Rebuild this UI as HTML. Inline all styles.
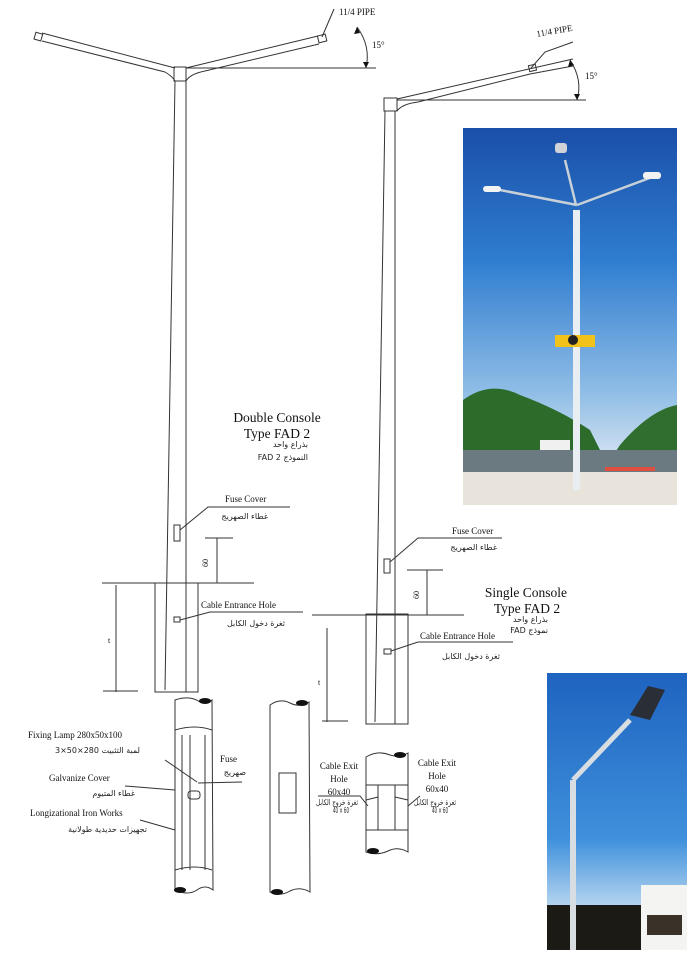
<!DOCTYPE html>
<html><head><meta charset="utf-8"><style>
html,body{margin:0;padding:0;background:#fff;}
svg{display:block;}
text{font-family:"Liberation Serif",serif;fill:#111;}
.ar{font-family:"DejaVu Sans",sans-serif;font-size:8px;fill:#222;}
</style></head><body>
<svg width="690" height="953" viewBox="0 0 690 953" xmlns="http://www.w3.org/2000/svg">
<defs>
<linearGradient id="sky1" x1="0" y1="0" x2="0" y2="1">
<stop offset="0" stop-color="#1a4fa8"/><stop offset="0.35" stop-color="#2f7dd0"/><stop offset="0.7" stop-color="#8fbde6"/><stop offset="0.85" stop-color="#c8dcef"/></linearGradient>
<linearGradient id="sky2" x1="0" y1="0" x2="0" y2="1">
<stop offset="0" stop-color="#1e63c0"/><stop offset="0.6" stop-color="#3f90dc"/><stop offset="0.85" stop-color="#b9d7f0"/></linearGradient>
</defs>
<g fill="none" stroke="#333" stroke-width="1">
<rect x="35" y="33" width="7" height="7" transform="rotate(16 38 36)"/>
<path d="M42 33 L175 68 M42 41 L165 72 Q172 76 175 81"/>
<rect x="174" y="67" width="12" height="14"/>
<path d="M186 68 L318 36 M186 81 Q190 74 205 71 L319 44"/>
<rect x="318" y="35" width="8" height="7" transform="rotate(-14 322 38)"/>
<path d="M186 68 L376 68"/>
<path d="M334 9 L322 37"/>
<path d="M357 27 Q371 46 366 68" />
<path d="M175 81 L165 690 M186 81 L186 692"/>
<rect x="155" y="583" width="43" height="109"/>
<path d="M102 583 L254 583"/>
<path d="M217 538 L217 583 M205 538 L233 538"/>
<path d="M116 585 L116 692 M103 691 L138 691"/>
<rect x="174" y="525" width="6" height="16"/>
<path d="M180 530 L208 507 L290 507"/>
<rect x="174" y="617" width="6" height="5"/>
<path d="M180 620 L210 612 L303 612"/>
<rect x="384" y="98" width="13" height="13"/>
<path d="M397 99 L573 59 M397 111 Q402 104 418 102 L530 74 M530 74 L573 66"/>
<rect x="529" y="65" width="7" height="6" transform="rotate(-13 532 68)"/>
<path d="M397 100 L586 100"/>
<path d="M531 68 L545 52 L573 42"/>
<path d="M570 60 Q583 80 577 100"/>
<path d="M385 111 L375 722 M395 111 L395 724"/>
<rect x="366" y="614" width="42" height="110"/>
<path d="M312 615 L464 615"/>
<path d="M427 570 L427 615 M407 570 L443 570"/>
<path d="M327 628 L327 722 M322 721 L348 721"/>
<rect x="384" y="559" width="6" height="14"/>
<path d="M390 562 L418 538 L502 538"/>
<rect x="384" y="649" width="7" height="5"/>
<path d="M391 651 L418 642 L513 642"/>
<path d="M175 700 Q190 695 200 702 Q207 705 212 700 L213 890 Q205 884 197 890 Q188 896 175 890 Z"/>
<path d="M175 730 Q195 724 212 730 M175 870 Q195 864 212 870 M182 735 L182 870 M190 735 L190 870 M205 735 L205 870"/>
<path d="M165 760 L197 782 M125 786 L175 790 M140 820 L175 830 M198 783 L242 782"/>
<rect x="188" y="791" width="12" height="8" rx="3"/>
<path d="M270 705 Q280 698 290 703 Q300 708 309 702 L310 892 Q300 886 290 891 Q280 897 270 892 Z"/>
<rect x="279" y="773" width="17" height="40"/>
<path d="M366 757 Q378 750 390 755 Q400 758 408 753 L408 852 Q398 846 388 851 Q377 856 366 852 Z"/>
<path d="M366 785 L408 785 M366 830 L408 830 M378 785 L378 830 M395 785 L395 830 M366 800 L378 797 M395 797 L408 800"/>
<path d="M318 796 L360 796 L368 806 M420 796 L408 806"/>
</g>
<g fill="#111">
<ellipse cx="205" cy="701" rx="6" ry="3"/><ellipse cx="180" cy="890" rx="6" ry="3"/>
<ellipse cx="302" cy="703" rx="6" ry="3"/><ellipse cx="277" cy="892" rx="6" ry="3"/>
<ellipse cx="400" cy="755" rx="6" ry="3"/><ellipse cx="373" cy="851" rx="6" ry="3"/>
<path d="M357 27 l-3 7 l6 -1 Z"/><path d="M366 68 l-3 -6 l6 0 Z"/>
<path d="M570 60 l-2 7 l6 -2 Z"/><path d="M577 100 l-3 -6 l6 0 Z"/>
</g>
<text x="339" y="15" font-size="9">11/4 PIPE</text>
<text x="372" y="48" font-size="9">15°</text>
<text x="537" y="37" font-size="9" transform="rotate(-10 537 37)">11/4 PIPE</text>
<text x="585" y="79" font-size="9">15°</text>
<text x="277" y="422" font-size="13.5" text-anchor="middle">Double Console</text>
<text x="277" y="438" font-size="13.5" text-anchor="middle">Type FAD 2</text>
<text x="308" y="447" class="ar" font-size="6" text-anchor="end">بذراع واحد</text>
<text x="308" y="460" class="ar" text-anchor="end">FAD 2 النموذج</text>
<text x="225" y="502" font-size="9">Fuse Cover</text>
<text x="268" y="519" class="ar" text-anchor="end">غطاء الصهريج</text>
<text x="201" y="608" font-size="9">Cable Entrance Hole</text>
<text x="285" y="626" class="ar" text-anchor="end">ثغرة دخول الكابل</text>
<text x="208" y="563" font-size="8" transform="rotate(-90 208 563)" text-anchor="middle">60</text>
<text x="108" y="643" font-size="8">t</text>
<text x="452" y="534" font-size="9">Fuse Cover</text>
<text x="497" y="550" class="ar" text-anchor="end">غطاء الصهريج</text>
<text x="420" y="639" font-size="9">Cable Entrance Hole</text>
<text x="500" y="659" class="ar" text-anchor="end">ثغرة دخول الكابل</text>
<text x="419" y="595" font-size="8" transform="rotate(-90 419 595)" text-anchor="middle">60</text>
<text x="318" y="685" font-size="8">t</text>
<text x="526" y="597" font-size="13.5" text-anchor="middle">Single Console</text>
<text x="527" y="613" font-size="13.5" text-anchor="middle">Type FAD 2</text>
<text x="548" y="622" class="ar" font-size="6" text-anchor="end">بذراع واحد</text>
<text x="548" y="633" class="ar" font-size="7" text-anchor="end">FAD نموذج</text>
<text x="28" y="738" font-size="9">Fixing Lamp 280x50x100</text>
<text x="140" y="753" class="ar" text-anchor="end">لمبة التثبيت 280×50×3</text>
<text x="49" y="781" font-size="9">Galvanize Cover</text>
<text x="135" y="796" class="ar" text-anchor="end">غطاء المتيوم</text>
<text x="30" y="816" font-size="9">Longizational Iron Works</text>
<text x="147" y="832" class="ar" text-anchor="end">تجهيزات حديدية طولانية</text>
<text x="220" y="762" font-size="9">Fuse</text>
<text x="246" y="775" class="ar" text-anchor="end">صهريج</text>
<text x="339" y="769" font-size="9" text-anchor="middle">Cable Exit</text>
<text x="339" y="782" font-size="9" text-anchor="middle">Hole</text>
<text x="339" y="795" font-size="9" text-anchor="middle">60x40</text>
<text x="316" y="805" class="ar" font-size="5" textLength="42" lengthAdjust="spacingAndGlyphs">ثغرة خروج الكابل</text>
<text x="333" y="813" class="ar" font-size="5" textLength="16" lengthAdjust="spacingAndGlyphs">40 × 60</text>
<text x="437" y="766" font-size="9" text-anchor="middle">Cable Exit</text>
<text x="437" y="779" font-size="9" text-anchor="middle">Hole</text>
<text x="437" y="792" font-size="9" text-anchor="middle">60x40</text>
<text x="414" y="805" class="ar" font-size="5" textLength="42" lengthAdjust="spacingAndGlyphs">ثغرة خروج الكابل</text>
<text x="432" y="813" class="ar" font-size="5" textLength="16" lengthAdjust="spacingAndGlyphs">40 × 60</text>
<g>
<rect x="463" y="128" width="214" height="377" fill="url(#sky1)"/>
<path d="M463 400 Q490 380 520 395 Q560 410 590 430 L600 450 L463 460 Z" fill="#2c6b2a"/>
<path d="M620 445 Q650 410 677 405 L677 460 L610 460 Z" fill="#2f6e2e"/>
<rect x="463" y="450" width="214" height="30" fill="#6a7a80"/>
<rect x="463" y="472" width="214" height="33" fill="#e8e4dc"/>
<rect x="540" y="440" width="30" height="10" fill="#f0f0f0"/>
<rect x="605" y="467" width="50" height="4" fill="#e05040"/>
<rect x="573" y="210" width="7" height="280" fill="#e8eef2"/>
<path d="M577 205 L500 190 M577 205 L655 176 M576 205 L565 160" stroke="#c8d0d8" stroke-width="2.5" fill="none"/>
<rect x="483" y="186" width="18" height="6" rx="3" fill="#f2f2f2"/>
<rect x="643" y="172" width="18" height="7" rx="3" fill="#f2f2f2"/>
<rect x="555" y="143" width="12" height="10" rx="3" fill="#d0d4d8"/>
<rect x="555" y="335" width="40" height="12" fill="#f1c21a"/>
<circle cx="573" cy="340" r="5" fill="#222"/>
</g>
<g>
<rect x="547" y="673" width="140" height="277" fill="url(#sky2)"/>
<rect x="547" y="905" width="110" height="45" fill="#1c1a14"/>
<rect x="641" y="885" width="46" height="65" fill="#f4f4f2"/>
<rect x="647" y="915" width="35" height="20" fill="#3a3228"/>
<path d="M573 780 L630 720" stroke="#d8dde2" stroke-width="5"/>
<rect x="570" y="780" width="6" height="170" fill="#d8dde2"/>
<path d="M630 715 L648 686 L665 690 L650 720 Z" fill="#2a2e36"/>
</g>
</svg>
</body></html>
